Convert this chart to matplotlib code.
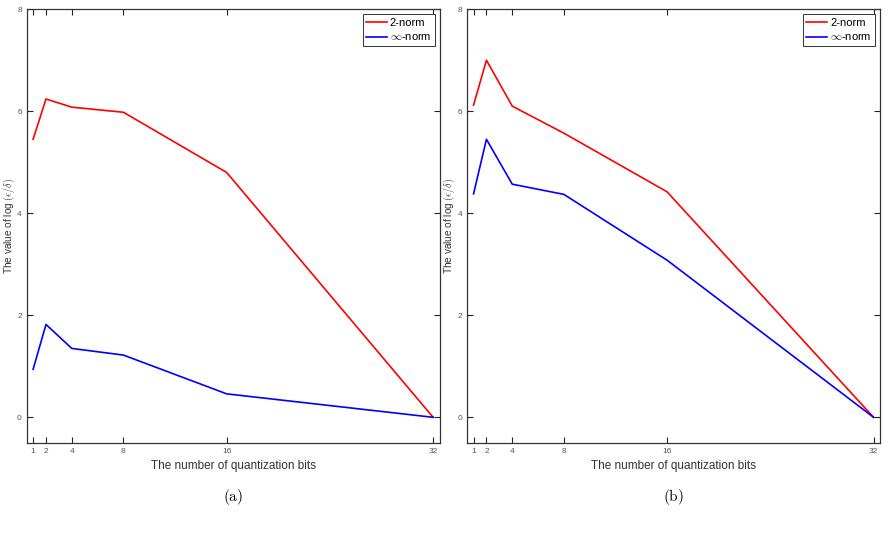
import matplotlib
matplotlib.use('Agg')
import matplotlib.pyplot as plt

plt.rcParams['mathtext.fontset'] = 'cm'
plt.rcParams['font.family'] = ['Liberation Sans', 'DejaVu Sans']

bits = [1, 2, 4, 8, 16, 32]

# panel (a)
a_two = [5.45, 6.24, 6.08, 5.98, 4.80, 0.0]
a_inf = [0.94, 1.82, 1.35, 1.22, 0.46, 0.0]

# panel (b)
b_two = [6.12, 7.00, 6.10, 5.57, 4.42, 0.0]
b_inf = [4.38, 5.45, 4.57, 4.37, 3.08, 0.0]

yticks = [0, 2, 4, 6, 8]
panels = [('(a)', a_two, a_inf), ('(b)', b_two, b_inf)]
lefts = [0.030, 0.526]

fig = plt.figure(figsize=(8.88, 5.42), dpi=100)

for (tag, two, inf), left in zip(panels, lefts):
    ax = fig.add_axes([left, 0.183, 0.465, 0.800])
    ax.plot(bits, two, color='#ff0000', lw=1.2, label='2-norm')
    ax.plot(bits, inf, color='#0000ff', lw=1.2, label=r'$\infty$-norm')
    ax.set_xlim(0.5, 32.5)
    ax.set_ylim(-0.5, 8)
    ax.set_xticks(bits)
    ax.set_yticks(yticks)
    ax.tick_params(direction='in', top=True, right=True, length=4, width=0.8,
                   labelsize=6, labelcolor='#555555', color='#222222')
    for s in ax.spines.values():
        s.set_linewidth(0.9)
        s.set_color('#333333')
    ax.set_xlabel('The number of quantization bits', fontsize=8.5, color='#333333', labelpad=4)
    ax.set_ylabel(r'The value of log $(\epsilon/\delta)$', fontsize=7.2, color='#333333',
                  va='center')
    ax.yaxis.set_label_coords(-0.043, 0.5)
    leg = ax.legend(loc='upper right', fontsize=8, fancybox=False, framealpha=1,
                    edgecolor='#333333', borderpad=0.3, handlelength=1.9,
                    handletextpad=0.25, labelspacing=0.35, borderaxespad=0.45)
    leg.get_frame().set_linewidth(0.7)
    fig.text(left + 0.465 / 2, 0.083, r'$\mathrm{' + tag + '}$', ha='center', va='center', fontsize=11)

fig.savefig('out.png', dpi=100)
